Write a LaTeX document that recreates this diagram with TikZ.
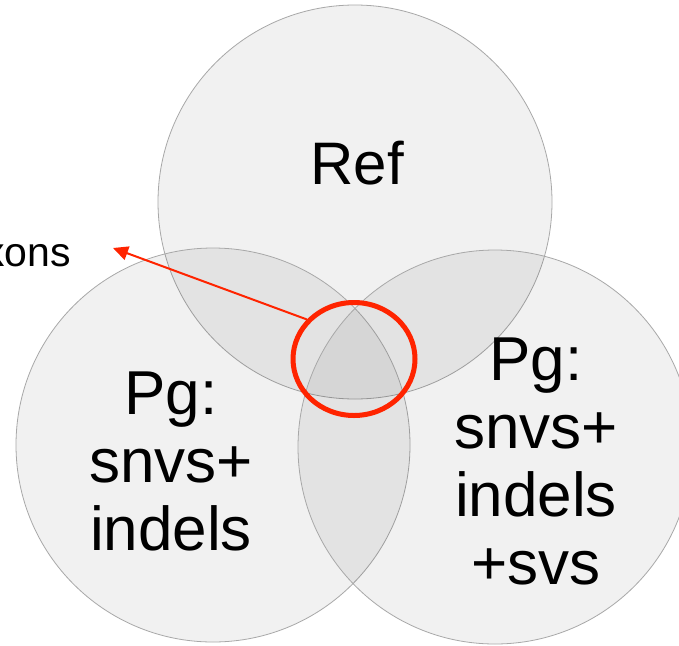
\documentclass[tikz,border=0pt]{standalone}
\usepackage{fontspec}
\setmainfont{Liberation Sans}
\usetikzlibrary{shapes.geometric,arrows.meta}
\definecolor{hlred}{RGB}{255,36,0}
\definecolor{ringgray}{RGB}{168,168,168}
\tikzset{
  venn/.style={circle, draw=ringgray, line width=0.8pt, fill=black, fill opacity=0.055, text opacity=1, minimum size=394pt, inner sep=0pt},
  big/.style={font=\fontsize{62}{68}\selectfont, align=center, inner sep=0pt, anchor=base},
  hlring/.style={ellipse, draw=hlred, line width=5pt, minimum width=122pt, minimum height=113pt, inner sep=0pt},
  hlarrow/.style={draw=hlred, line width=2pt, -{Triangle[length=15pt,width=14pt]}}
}
\begin{document}
\begin{tikzpicture}[x=1pt,y=-1pt]
\useasboundingbox[clip] (0,0) rectangle (679,645);
\fill[white] (0,0) rectangle (679,645);
\node[venn] (top) at (355,202) {};
\node[venn] (left) at (213,445) {};
\node[venn] (right) at (495,447) {};
\node[font=\fontsize{60}{66}\selectfont, inner sep=0pt, anchor=base] (reftxt) at (357,184) {Ref};
\node[big] (lefttxt) at (171,550) {Pg:\\snvs+\\indels};
\node[big] (righttxt) at (536,584) {Pg:\\snvs+\\indels\\+svs};
\node[hlring] (ring) at (354,359) {};
\node[font=\fontsize{41}{45}\selectfont, inner sep=0pt, anchor=base east] (xons) at (71,266) {xons};
\coordinate (tip) at (113,248);
\draw[hlarrow] (ring.140) -- (tip);
\end{tikzpicture}
\end{document}
